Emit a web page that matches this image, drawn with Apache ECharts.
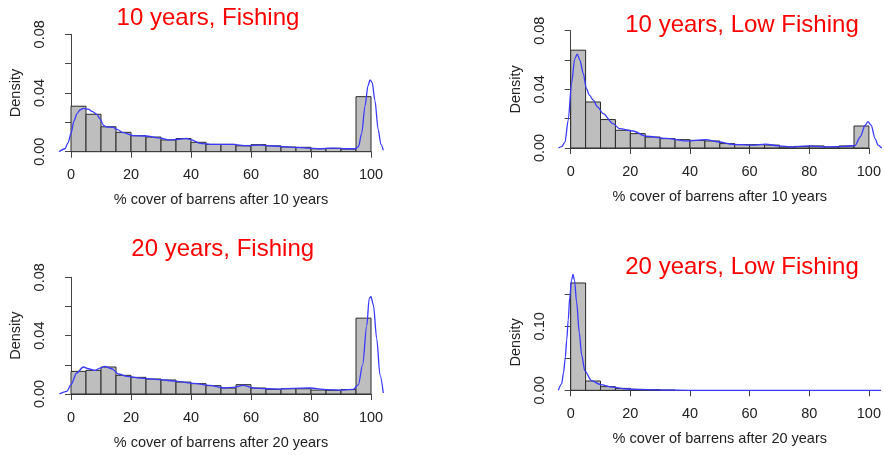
<!DOCTYPE html>
<html>
<head>
<meta charset="utf-8">
<script src="https://cdn.jsdelivr.net/npm/echarts@6/dist/echarts.min.js"></script>
<style>
  html, body { margin: 0; padding: 0; background: #fff; }
  #chart { width: 884px; height: 455px; }
</style>
</head>
<body>
<div id="chart"></div>
<script>
// histogram bins (left edges, width 5)
const binStarts = [0, 5, 10, 15, 20, 25, 30, 35, 40, 45, 50, 55, 60, 65, 70, 75, 80, 85, 90, 95]
const xTicks = [0, 20, 40, 60, 80, 100]

// histogram densities
const hist10Fishing = [0.031, 0.0255, 0.017, 0.0132, 0.0109, 0.010, 0.008, 0.009, 0.0064, 0.005,
  0.005, 0.004, 0.0048, 0.004, 0.0032, 0.003, 0.002, 0.0023, 0.0018, 0.0375]
const hist10Low = [0.0667, 0.0314, 0.0194, 0.0121, 0.0098, 0.0075, 0.0064, 0.0057, 0.0052, 0.0048,
  0.003, 0.0023, 0.0023, 0.002, 0.0007, 0.0011, 0.0014, 0.0007, 0.0014, 0.015]
const hist20Fishing = [0.0155, 0.0162, 0.0185, 0.0128, 0.0114, 0.0103, 0.0096, 0.0082, 0.0071, 0.0057,
  0.0041, 0.0064, 0.0041, 0.0032, 0.0036, 0.0036, 0.0027, 0.0025, 0.003, 0.052]
const hist20Low = [0.1677, 0.0145, 0.0057, 0.003, 0.0015, 0.001, 0.0003, 0, 0, 0,
  0, 0, 0, 0, 0, 0, 0, 0, 0, 0]

// kernel density curves [x, density]
const kde10Fishing = [[-4, 0], [-2, 0.002], [-1, 0.006], [0, 0.0125], [1, 0.021], [2, 0.026], [3, 0.0285],
  [4.1, 0.0295], [5.8, 0.029], [7, 0.0275], [8.6, 0.0255], [9.8, 0.022], [10.8, 0.018], [12, 0.0168],
  [14, 0.0166], [15.5, 0.015], [17.4, 0.013], [20.8, 0.011], [25, 0.0107], [29.7, 0.0093], [33, 0.008],
  [36, 0.0085], [38.5, 0.009], [40.2, 0.008], [43, 0.0057], [47.4, 0.005], [54, 0.005], [58.6, 0.0041],
  [63, 0.0045], [67.4, 0.0039], [74, 0.003], [78.6, 0.0025], [83, 0.002], [87.4, 0.0025], [91.9, 0.002],
  [94.7, 0.002], [95.8, 0.0034], [96.9, 0.0125], [98, 0.031], [99, 0.045], [99.7, 0.049], [100.4, 0.047],
  [101.3, 0.035], [102.4, 0.015], [103.3, 0.005], [104.1, 0.001]]
const kde10Low = [[-4.1, 0], [-3, 0.001], [-1.9, 0.004], [-0.8, 0.019], [0.3, 0.044], [1.4, 0.061], [2.2, 0.064],
  [3.1, 0.06], [4.2, 0.051], [5.3, 0.0405], [6.3, 0.036], [7.6, 0.0326], [9, 0.028], [10.9, 0.0235],
  [14.2, 0.0166], [16.4, 0.0132], [20.9, 0.0116], [25.3, 0.008], [32, 0.0066], [38.7, 0.0048], [45.3, 0.0057],
  [49.8, 0.0041], [54.2, 0.0025], [60.9, 0.002], [65.3, 0.0027], [69.8, 0.0014], [74.2, 0.0007], [79.8, 0.0014],
  [85.3, 0.0007], [92, 0.0011], [95.3, 0.0016], [97, 0.0075], [98.7, 0.0155], [99.6, 0.018], [100.7, 0.0155],
  [102, 0.0064], [103, 0.002], [104.2, 0]]
const kde20Fishing = [[-3.9, 0], [-1.4, 0.0018], [0, 0.0064], [1.9, 0.0144], [4.1, 0.0185], [5.8, 0.0173],
  [8, 0.0162], [9.7, 0.0178], [11.3, 0.0189], [13.6, 0.0173], [15.8, 0.0137], [18.6, 0.0121], [23, 0.0109],
  [29.7, 0.0098], [35.2, 0.0087], [40.8, 0.0073], [46.3, 0.0059], [50.8, 0.0041], [54.1, 0.0046], [57.4, 0.0059],
  [60.8, 0.0041], [65.2, 0.0036], [69.7, 0.0034], [74.1, 0.0039], [79.7, 0.0041], [85.2, 0.003], [90.8, 0.0027],
  [94.1, 0.0032], [95.8, 0.0064], [97.2, 0.02], [98.6, 0.047], [99.4, 0.0656], [100, 0.0667], [100.8, 0.061],
  [101.9, 0.038], [103, 0.013], [104.1, 0.0007]]
const kde20Low = [[-4.1, 0], [-3, 0.01], [-2.4, 0.027], [-1.8, 0.05], [-1.3, 0.079], [-0.8, 0.11], [-0.3, 0.145],
  [0.3, 0.172], [0.8, 0.181], [1.3, 0.172], [2, 0.138], [2.9, 0.09], [3.7, 0.055], [4.8, 0.03], [7, 0.015],
  [10, 0.009], [14, 0.005], [19, 0.002], [25, 0.001], [32, 0.0003], [40, 0], [60, 0], [80, 0], [104, 0]]

const titles = ['10 years, Fishing', '10 years, Low Fishing', '20 years, Fishing', '20 years, Low Fishing']
const xNames = ['% cover of barrens after 10 years', '% cover of barrens after 10 years',
  '% cover of barrens after 20 years', '% cover of barrens after 20 years']
const yLabelsA = ['0.00', '0.04', '0.08']
const yLabelsB = ['0.00', '0.10']

const font = 'Liberation Sans, Arial, sans-serif'
const axisFontSize = 14.5
const pxPerUnit = 3
const pad = 5 // curve axis reaches 5 units beyond 0..100
const panels = [
  { hist: hist10Fishing, kde: kde10Fishing, grid: { left: 71, top: 34.3, width: 300, height: 117.4 }, yMax: 0.08, yStep: 0.02, yLabels: yLabelsA, title: [208, 18.5] },
  { hist: hist10Low, kde: kde10Low, grid: { left: 570.7, top: 30.7, width: 300, height: 117.3 }, yMax: 0.08, yStep: 0.02, yLabels: yLabelsA, title: [742, 25] },
  { hist: hist20Fishing, kde: kde20Fishing, grid: { left: 71, top: 277.3, width: 300, height: 116.7 }, yMax: 0.08, yStep: 0.02, yLabels: yLabelsA, title: [222.7, 249.5] },
  { hist: hist20Low, kde: kde20Low, grid: { left: 570.7, top: 294.3, width: 300, height: 96 }, yMax: 0.15, yStep: 0.05, yLabels: yLabelsB, title: [742, 267.8] },
]

function renderBar(params, api) {
  const p0 = api.coord([api.value(0), 0])
  const p1 = api.coord([api.value(1), api.value(2)])
  return {
    type: 'rect',
    shape: { x: p0[0], y: p1[1], width: p1[0] - p0[0], height: p0[1] - p1[1] },
    style: { fill: '#bebebe', stroke: '#2a2a2a', lineWidth: 1 },
  }
}

const chart = echarts.init(document.getElementById('chart'))
const option = {
  animation: false,
  textStyle: { fontFamily: font },
  grid: [],
  xAxis: [],
  yAxis: [],
  series: [],
  graphic: [],
}

// visible axes + histograms
panels.forEach((p, i) => {
  option.grid.push(p.grid)
  option.xAxis.push({
    type: 'value',
    gridIndex: i,
    min: 0,
    max: 100,
    interval: 20,
    offset: 6,
    name: xNames[i],
    nameLocation: 'middle',
    nameGap: 35,
    nameTextStyle: { fontSize: axisFontSize, color: '#222', fontFamily: font },
    axisLine: { lineStyle: { color: '#444', width: 1 } },
    axisTick: { length: 6, lineStyle: { color: '#444' } },
    axisLabel: { fontSize: axisFontSize, color: '#222', margin: 10, fontFamily: font, formatter: (v) => (xTicks.includes(v) ? String(v) : '') },
    splitLine: { show: false },
  })
  option.yAxis.push({
    type: 'value',
    gridIndex: i,
    min: 0,
    max: p.yMax,
    interval: p.yStep,
    offset: 11.5,
    name: 'Density',
    nameLocation: 'middle',
    nameGap: 36,
    nameTextStyle: { fontSize: axisFontSize, color: '#222', fontFamily: font },
    axisLine: { show: true, lineStyle: { color: '#444', width: 1 } },
    axisTick: { show: true, length: 6, lineStyle: { color: '#444' } },
    axisLabel: {
      rotate: 90,
      fontSize: axisFontSize,
      color: '#222',
      margin: 12,
      fontFamily: font,
      formatter: (v) => {
        const s = v.toFixed(2)
        return p.yLabels.includes(s) ? s : ''
      },
    },
    splitLine: { show: false },
  })
  option.series.push({
    type: 'custom',
    xAxisIndex: i,
    yAxisIndex: i,
    renderItem: renderBar,
    clip: false,
    encode: { x: [0, 1], y: 2 },
    data: binStarts.map((b, k) => [b, b + 5, p.hist[k]]).filter((d) => d[2] > 0),
  })
  option.graphic.push({
    type: 'text',
    x: p.title[0],
    y: p.title[1],
    style: {
      text: titles[i],
      fill: '#ff0000',
      font: '24px ' + font,
      textAlign: 'center',
      textVerticalAlign: 'middle',
    },
  })
})

// hidden wider axes for density curves (curve runs past 0 and 100)
panels.forEach((p, i) => {
  const gi = panels.length + i
  option.grid.push({
    left: p.grid.left - pad * pxPerUnit,
    top: p.grid.top,
    width: p.grid.width + 2 * pad * pxPerUnit,
    height: p.grid.height,
  })
  option.xAxis.push({ type: 'value', gridIndex: gi, min: -pad, max: 100 + pad, show: false, splitLine: { show: false } })
  option.yAxis.push({ type: 'value', gridIndex: gi, min: 0, max: p.yMax, show: false, splitLine: { show: false } })
  option.series.push({
    type: 'line',
    xAxisIndex: gi,
    yAxisIndex: gi,
    data: p.kde,
    showSymbol: false,
    symbol: 'none',
    smooth: 0.3,
    smoothMonotone: 'x',
    clip: false,
    lineStyle: { color: '#3a3aff', width: 1.3 },
    z: 3,
  })
})

chart.setOption(option)
</script>
</body>
</html>
